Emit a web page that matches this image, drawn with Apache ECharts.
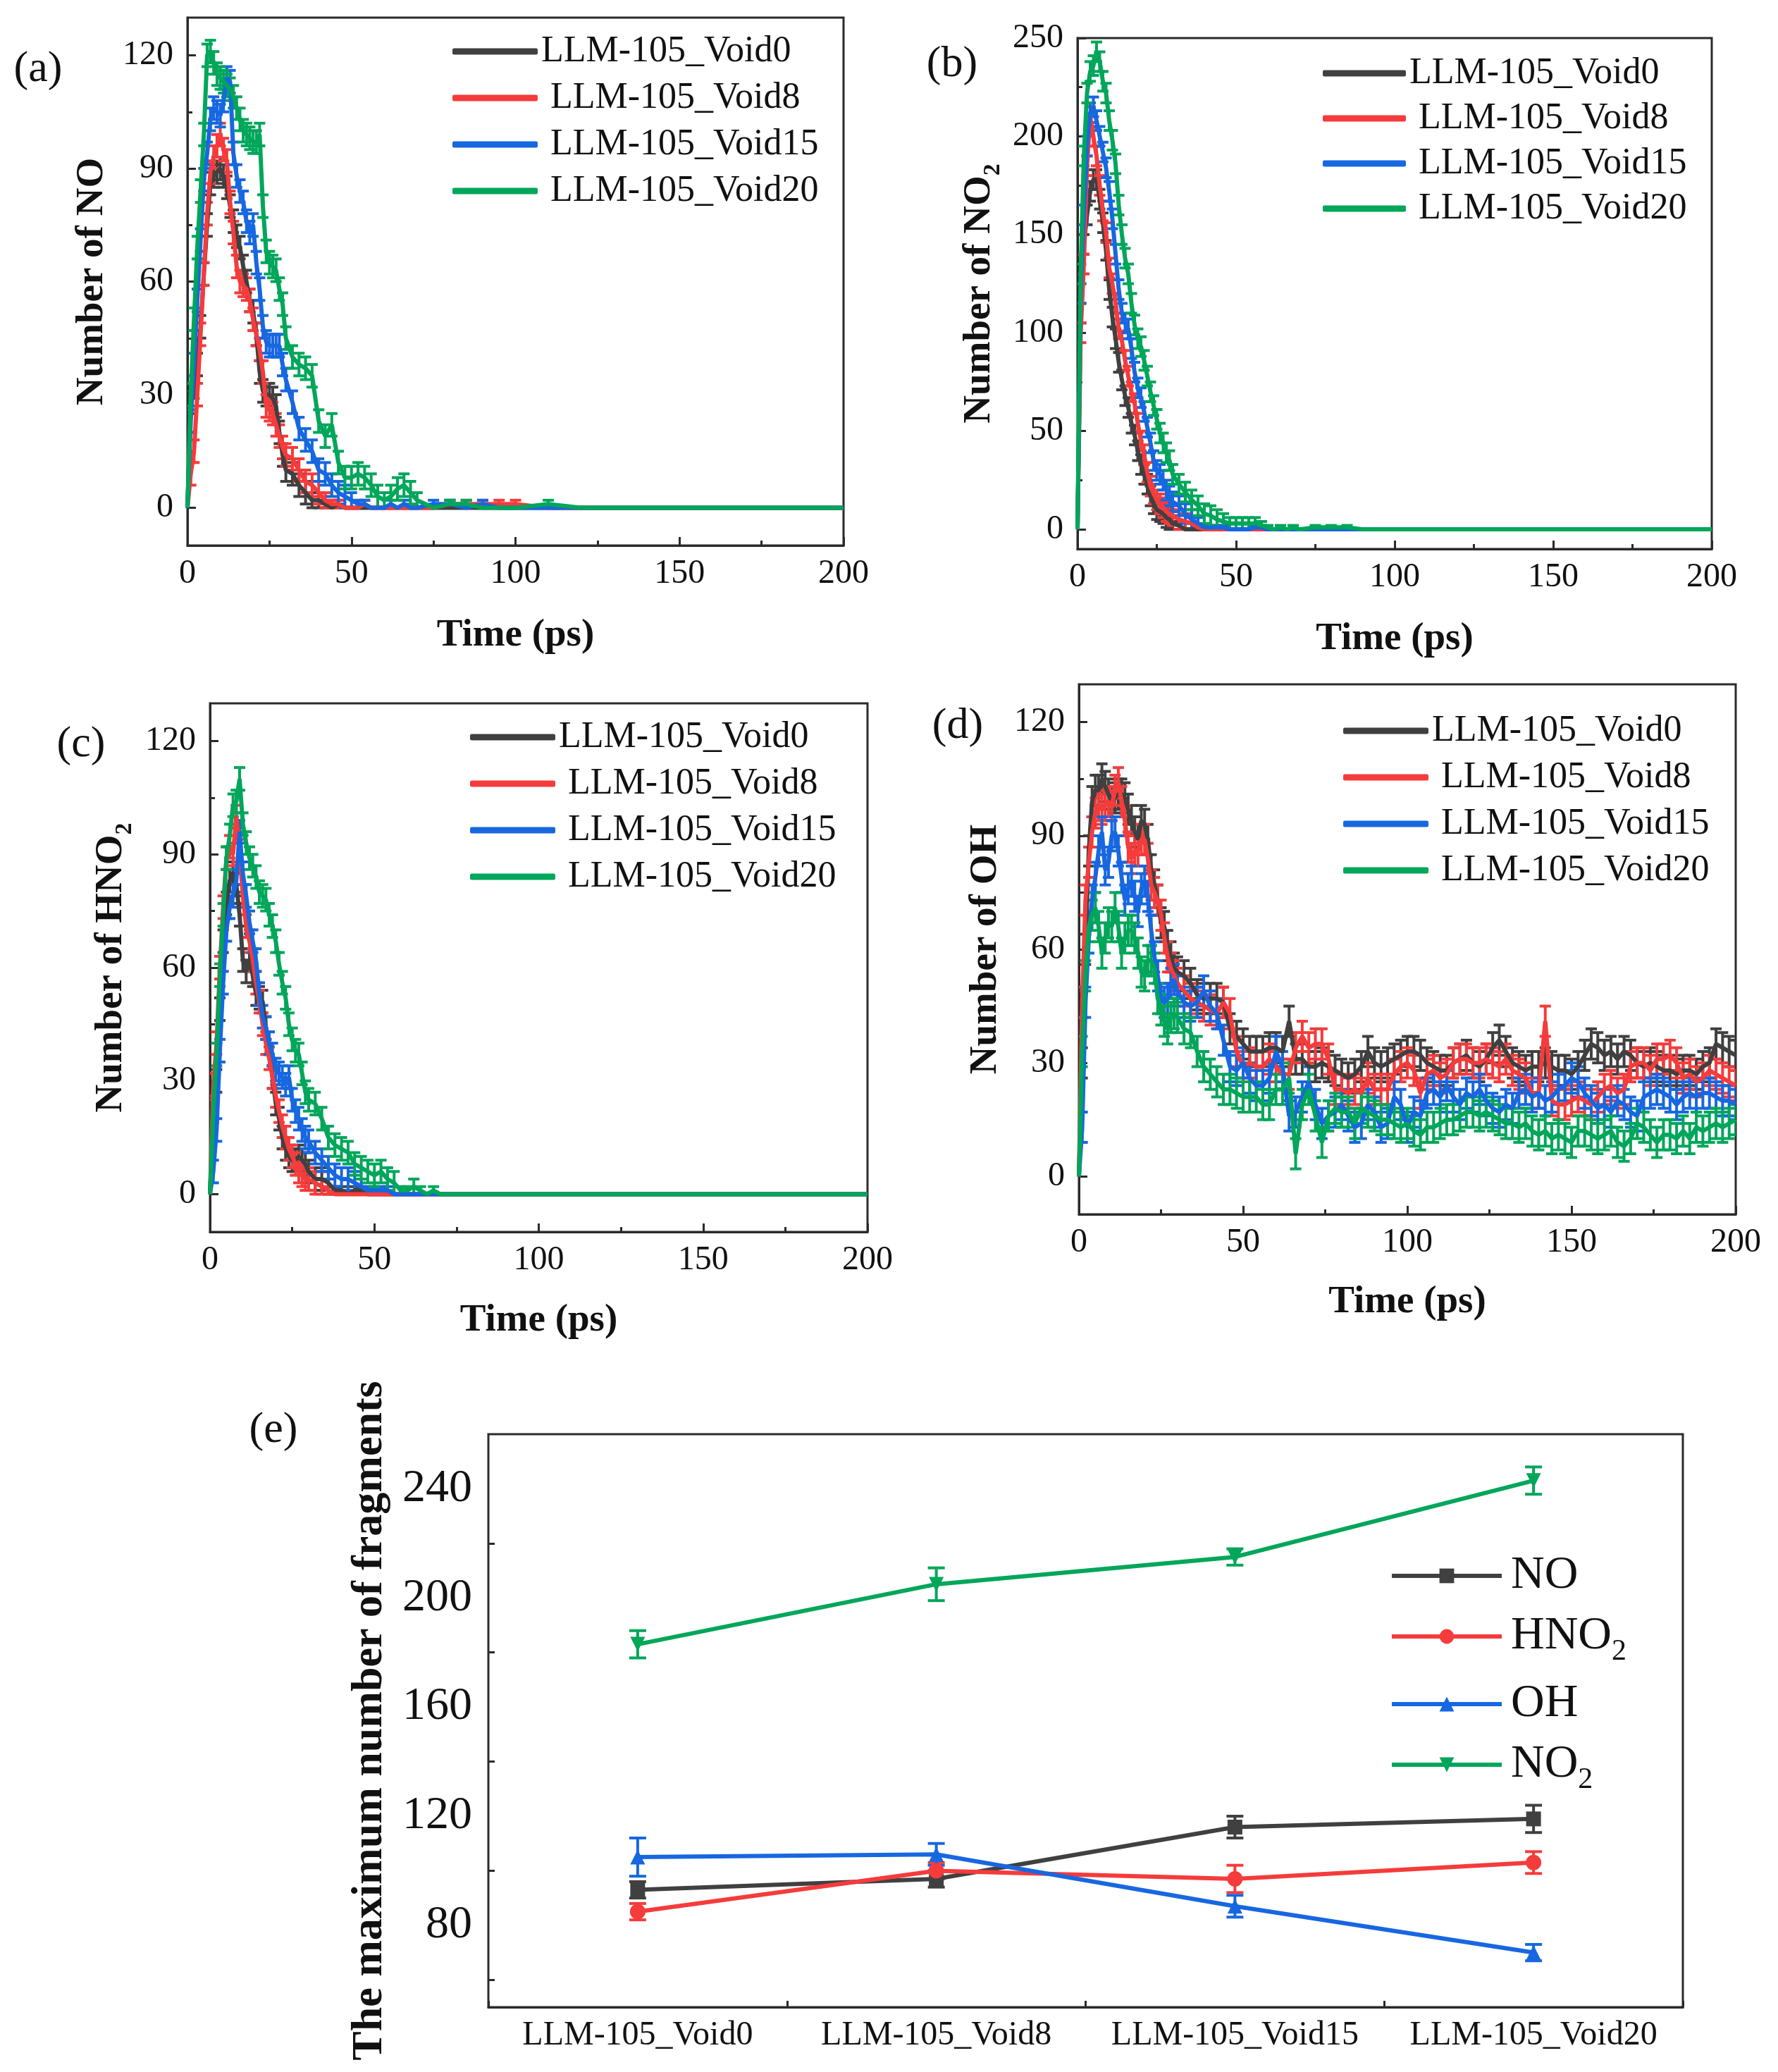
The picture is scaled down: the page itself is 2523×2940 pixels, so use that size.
<!DOCTYPE html>
<html><head><meta charset="utf-8">
<script src="https://cdn.jsdelivr.net/npm/echarts@6/dist/echarts.min.js"></script>
<style>html,body{margin:0;padding:0;background:#fff}#c{width:2523px;height:2940px}</style>
</head><body><div id="c"></div>
<script>
// ================= DATA =================
const voidNames = ['LLM-105_Void0', ' LLM-105_Void8', ' LLM-105_Void15', ' LLM-105_Void20'];

// time axis (ps) for panels (a)-(c)
const timeABC = [0,1,2,3,4,5,6,7,8,9,10,11,12,13,14,15,16,17,18,19,20,21,22,23,24,25,26,27,28,29,30,
  32,34,36,38,40,42,44,46,48,50,52,54,56,58,60,62,64,66,68,70,
  75,80,85,90,95,100,110,120,130,140,150,160,170,180,190,200];

// (a) Number of NO
const noVoid0  = [0,28,32,38,48,62,75,86,88,89,90,88,85,80,76,72,69,64,60,55,52,46,36,31,30,30,29,27,20,14,10, 9,6,4,2,2,1,0,1,0,0,0,0,0,0,0,0,0,0,0,0, 0,0,0,0,0,0,0,0,0,0,0,0,0,0,0,0];
const noVoid8  = [0,9,15,30,46,62,78,89,93,96,99,95,92,81,73,64,60,59,58,55,50,46,42,36,27,26,25,22,19,16,14, 13,10,7,6,4,2,1,1,0,0,0,1,0,0,0,0,0,0,0,0, 0,1,1,1,1,1,0,0,0,0,0,0,0,0,0,0];
const noVoid15 = [0,23,38,55,71,87,94,103,106,105,104,108,114,113,94,88,84,81,76,73,75,65,58,48,44,43,43,43,43,38,34, 28,21,18,15,10,9,6,4,3,2,1,1,0,0,0,1,0,1,0,0, 1,1,0,1,0,0,0,0,0,0,0,0,0,0,0,0];
const noVoid20 = [0,30,50,69,84,99,120,121,118,115,114,113,112,111,109,106,103,100,99,98,97,97,99,80,68,65,64,63,58,54,45, 40,38,37,35,23,19,22,12,8,8,9,8,6,3,2,3,5,6,4,2, 0,1,1,0,0,0,1,0,0,0,0,0,0,0,0,0];

// (b) Number of NO2
const no2Void0  = [0,110,145,160,172,178,178,168,156,142,122,108,97,85,76,68,62,54,48,40,33,28,23,17,13,10,9,8,6,5,3, 2,0,0,0,0,0,0,0,0,0,0,0,0,0,0,0,0,0,0,0, 0,0,0,0,0,0,0,0,0,0,0,0,0,0,0,0];
const no2Void8  = [0,100,135,185,210,200,190,175,162,151,133,125,115,102,96,86,78,70,64,54,45,38,29,22,18,15,13,11,9,8,7, 5,4,3,1,0,0,0,0,0,0,0,0,0,0,0,0,0,0,0,0, 0,0,0,0,0,0,0,0,0,0,0,0,0,0,0,0];
const no2Void15 = [0,120,160,195,212,215,208,200,192,184,172,158,140,122,110,105,102,92,80,72,67,60,52,44,35,30,28,25,20,17,14, 12,8,5,3,1,1,1,1,0,0,0,0,1,1,0,0,0,0,0,0, 0,0,0,0,0,0,0,0,0,0,0,0,0,0,0,0];
const no2Void20 = [0,130,190,222,233,236,243,238,228,222,208,198,186,165,150,138,130,115,104,97,93,86,78,70,63,56,49,44,39,35,28, 23,19,15,12,8,7,5,4,3,3,3,3,3,2,1,0,1,0,1,0, 1,1,1,0,0,0,0,0,0,0,0,0,0,0,0,0];

// (c) Number of HNO2
const hno2Void0  = [0,22,30,49,67,77,83,85,82,74,62,59,62,58,53,52,51,44,40,31,24,20,15,12,10,9,9,10,9,8,6, 4,4,3,1,1,0,1,1,0,0,0,0,0,0,0,0,0,0,0,0, 0,0,0,0,0,0,0,0,0,0,0,0,0,0,0,0];
const hno2Void8  = [0,29,40,60,76,89,92,90,100,91,79,71,67,62,56,51,45,40,36,31,26,22,18,15,12,10,8,6,5,4,4, 3,2,1,0,0,0,0,0,0,0,0,0,0,0,0,0,0,0,0,0, 0,0,0,0,0,0,0,0,0,0,0,0,0,0,0,0];
const hno2Void15 = [0,6,17,38,56,70,76,79,83,96,85,79,72,67,62,53,47,44,40,37,33,32,31,29,31,25,22,20,17,15,14, 11,9,7,5,4,4,3,2,1,1,1,1,0,0,0,0,0,0,0,0, 0,0,0,0,0,0,0,0,0,0,0,0,0,0,0,0];
const hno2Void20 = [0,22,37,58,74,89,95,103,104,110,98,93,89,87,84,80,79,78,74,71,67,61,56,52,45,41,38,37,32,27,25, 24,20,15,13,12,11,8,7,6,5,6,4,3,1,1,2,1,0,1,0, 0,0,0,0,0,0,0,0,0,0,0,0,0,0,0,0];

// time axis (ps) for panel (d)
const timeD = [0,1,2,3,4,5,6,7,8,9,10,11,12,13,14,15,16,17,18,19,20,21,22,23,24,25,26,27,28,29,30,
  32,34,36,38,40,42,44,46,48,50,52,54,56,58,60,62,64,66,68,70,72,74,76,78,80,82,84,86,88,90,92,94,96,98,100,
  102,104,106,108,110,112,114,116,118,120,122,124,126,128,130,132,134,136,138,140,142,144,146,148,150,
  152,154,156,158,160,162,164,166,168,170,172,174,176,178,180,182,184,186,188,190,192,194,196,198,200];

// (d) Number of OH
const ohVoid0  = [0,30,60,86,99,102,102,105,103,101,99,100,101,101,100,97,94,91,89,94,93,89,81,77,73,67,66,61,58,55,54,
  53,51,48,47,47,47,46,39,37,35,33,33,33,34,34,33,41,31,31,29,29,30,29,28,27,26,27,29,33,30,29,30,31,32,33,
  33,32,30,29,28,28,30,31,32,30,29,31,34,36,33,30,29,28,29,29,30,29,28,28,27,29,32,35,34,32,33,31,33,32,30,29,30,29,28,28,27,28,28,27,29,30,35,34,33,32];
const ohVoid8  = [0,46,73,83,91,96,98,97,98,99,98,102,104,99,94,87,84,86,86,89,89,84,77,75,73,69,63,58,55,53,51,
  49,47,46,45,44,43,46,43,33,29,30,29,29,31,29,27,27,34,37,34,35,35,31,23,23,22,23,22,26,23,23,23,27,29,30,
  28,22,27,28,26,27,30,31,31,30,30,31,30,29,31,28,27,26,22,22,41,20,19,19,20,21,20,19,21,23,24,22,23,29,30,30,28,31,31,32,30,26,27,25,26,28,27,26,25,24];
const ohVoid15 = [0,13,46,63,73,79,86,91,81,83,90,91,86,79,73,76,78,74,70,76,78,74,65,58,53,47,46,47,51,52,49,
  46,45,46,49,45,43,36,29,28,30,26,24,24,26,33,29,16,17,21,25,19,14,16,17,19,16,13,14,19,17,13,14,21,19,13,
  17,16,22,23,21,24,21,19,22,21,23,20,18,17,19,18,22,23,21,22,20,21,23,24,26,25,22,20,18,19,17,20,19,17,16,21,22,23,22,21,19,21,22,21,22,22,21,20,20,19];
const ohVoid20 = [0,33,53,66,69,71,66,59,63,67,66,71,66,59,63,65,65,63,59,54,53,57,57,55,47,44,41,39,42,43,42,
  39,38,33,29,27,25,23,23,22,21,21,21,19,19,23,23,26,6,19,23,16,9,16,18,17,17,14,18,17,16,15,15,14,13,14,
  12,11,13,13,14,15,15,16,17,17,16,17,16,15,14,14,13,14,12,11,12,10,11,10,9,12,12,11,10,11,12,9,8,10,14,13,11,9,11,11,10,12,10,13,12,13,14,13,14,15];

// typical error-bar half widths (Void0, Void8, Void15, Void20)
const errNO   = [3, 3, 3, 3];
const errNO2  = [5, 5, 5, 5];
const errHNO2 = [3, 3, 3, 3];
const errOH   = [4, 4, 4, 4];

// (e) maximum number of fragments
const categoriesE = ['LLM-105_Void0', 'LLM-105_Void8', 'LLM-105_Void15', 'LLM-105_Void20'];
const speciesE = ['NO', 'HNO2', 'OH', 'NO2'];
const maxNO   = [93, 97, 116, 119];
const maxHNO2 = [85, 100, 97, 103];
const maxOH   = [105, 106, 87, 70];
const maxNO2  = [183, 205, 215, 243];
const errMaxNO   = [3, 3, 4, 5];
const errMaxHNO2 = [3, 3, 5, 4];
const errMaxOH   = [7, 4, 4, 3];
const errMaxNO2  = [5, 6, 3, 5];

// tick values
const xTicksTime = [0, 50, 100, 150, 200];
const yTicks30 = [0, 30, 60, 90, 120];
const yMinor30 = [15, 45, 75, 105];
const yTicks50 = [0, 50, 100, 150, 200, 250];
const yMinor50 = [25, 75, 125, 175, 225];
const yTicksE = [80, 120, 160, 200, 240];
const yMinorE = [60, 100, 140, 180, 220];

// ================= STYLE / LAYOUT =================
const FONT = "'Liberation Serif','Times New Roman',serif";
const COLORS = ['#404040', '#f53b3b', '#1767e0', '#00a65a'];
const AX = '#2a2a2a';
const TXT = '#111';

function sub(name) { // 'HNO2' -> rich text with subscript
  const m = name.match(/^(.*[A-Z])2$/);
  return m ? '{m|' + m[1] + '}{s|2}' : '{m|' + name + '}';
}

const panels = [
  { label: '(a)', lx: 54, ly: 99, t: timeABC, vals: [noVoid0, noVoid8, noVoid15, noVoid20], err: errNO,
    grid: { left: 266, top: 25, width: 931, height: 749 }, ymin: -10, ymax: 130, major: yTicks30, minor: yMinor30,
    yName: 'Number of NO', yGap: 105, xGap: 100, legend: { left: 642, top: 47, itemWidth: 121, itemGap: 14 } },
  { label: '(b)', lx: 1351, ly: 92, t: timeABC, vals: [no2Void0, no2Void8, no2Void15, no2Void20], err: errNO2,
    grid: { left: 1529, top: 54, width: 900, height: 725 }, ymin: -10, ymax: 250, major: yTicks50, minor: yMinor50,
    yName: 'Number of NO2', yGap: 103, xGap: 100, legend: { left: 1877, top: 78, itemWidth: 118, itemGap: 12 } },
  { label: '(c)', lx: 115, ly: 1057, t: timeABC, vals: [hno2Void0, hno2Void8, hno2Void15, hno2Void20], err: errHNO2,
    grid: { left: 298, top: 998, width: 933, height: 750 }, ymin: -10, ymax: 130, major: yTicks30, minor: yMinor30,
    yName: 'Number of HNO2', yGap: 104, xGap: 98, legend: { left: 667, top: 1020, itemWidth: 121, itemGap: 14 } },
  { label: '(d)', lx: 1359, ly: 1031, t: timeD, vals: [ohVoid0, ohVoid8, ohVoid15, ohVoid20], err: errOH,
    grid: { left: 1531, top: 971, width: 932, height: 752 }, ymin: -10, ymax: 130, major: yTicks30, minor: yMinor30,
    yName: 'Number of OH', yGap: 102, xGap: 97, legend: { left: 1906, top: 1011, itemWidth: 121, itemGap: 14 } }
];

function nameStyle(size, subSize, lh, lhSub) {
  return {
    fontFamily: FONT, fontWeight: 'bold', fontSize: size, color: TXT,
    rich: {
      m: { fontFamily: FONT, fontWeight: 'bold', fontSize: size, color: TXT, lineHeight: lh, verticalAlign: 'middle' },
      s: { fontFamily: FONT, fontWeight: 'bold', fontSize: subSize, color: TXT, lineHeight: lhSub, verticalAlign: 'bottom' }
    }
  };
}

// error bar drawer; limitToValue keeps the bar from being longer than the value itself
function errRender(capHalf, lw, limitToValue) {
  return function (params, api) {
    const x = api.value(0), y = api.value(1);
    let e = api.value(2);
    if (!e || y === 0) return null;
    if (limitToValue) e = Math.min(e, Math.abs(y));
    const p1 = api.coord([x, y + e]), p2 = api.coord([x, y - e]);
    const st = { stroke: api.visual('color'), lineWidth: lw };
    return { type: 'group', children: [
      { type: 'line', shape: { x1: p1[0], y1: p1[1], x2: p2[0], y2: p2[1] }, style: st },
      { type: 'line', shape: { x1: p1[0] - capHalf, y1: p1[1], x2: p1[0] + capHalf, y2: p1[1] }, style: st },
      { type: 'line', shape: { x1: p2[0] - capHalf, y1: p2[1], x2: p2[0] + capHalf, y2: p2[1] }, style: st }
    ] };
  };
}

const grids = [], xAxes = [], yAxes = [], series = [], legends = [], graphics = [];
const tickLine = { color: AX, width: 3 };

panels.forEach((p, gi) => {
  grids.push(Object.assign({ show: true, borderColor: AX, borderWidth: 3, backgroundColor: 'transparent' }, p.grid));
  const xi = xAxes.length;
  xAxes.push({
    type: 'value', gridIndex: gi, position: 'bottom', min: 0, max: 200, interval: 50,
    axisLine: { onZero: false, lineStyle: { color: AX, width: 3 } },
    axisTick: { inside: true, length: 12, lineStyle: tickLine },
    minorTick: { show: true, splitNumber: 2, length: 7, lineStyle: tickLine },
    splitLine: { show: false }, minorSplitLine: { show: false },
    axisLabel: { fontFamily: FONT, fontSize: 48, color: TXT, margin: 16, customValues: xTicksTime },
    name: 'Time (ps)', nameLocation: 'middle', nameGap: p.xGap,
    nameTextStyle: nameStyle(55, 34, 60, 72)
  });
  const yi = yAxes.length;
  yAxes.push({
    type: 'value', gridIndex: gi, position: 'left', min: p.ymin, max: p.ymax,
    axisLine: { onZero: false, lineStyle: { color: AX, width: 3 } },
    axisTick: { inside: true, length: 12, lineStyle: tickLine, customValues: p.major },
    splitLine: { show: false },
    axisLabel: { fontFamily: FONT, fontSize: 48, color: TXT, margin: 20, customValues: p.major },
    name: sub(p.yName), nameLocation: 'middle', nameGap: p.yGap,
    nameTextStyle: nameStyle(55, 34, 60, 72)
  });
  yAxes.push({
    type: 'value', gridIndex: gi, position: 'left', min: p.ymin, max: p.ymax,
    axisLine: { show: false, onZero: false }, splitLine: { show: false },
    axisLabel: { show: false, customValues: p.minor },
    axisTick: { show: true, inside: true, length: 7, lineStyle: tickLine, customValues: p.minor }
  });
  p.vals.forEach((v, si) => {
    series.push({
      type: 'line', name: voidNames[si], xAxisIndex: xi, yAxisIndex: yi,
      data: p.t.map((t, i) => [t, v[i]]), symbol: 'none', clip: true,
      lineStyle: { color: COLORS[si], width: 6 }, itemStyle: { color: COLORS[si] }
    });
    series.push({
      type: 'custom', name: 'err' + gi + '_' + si, xAxisIndex: xi, yAxisIndex: yi, clip: true,
      itemStyle: { color: COLORS[si] }, encode: { x: 0, y: 1 },
      data: p.t.map((t, i) => [t, v[i], p.err[si]]),
      renderItem: errRender(8, 4, true)
    });
  });
  legends.push({
    data: voidNames, orient: 'vertical', left: p.legend.left, top: p.legend.top, padding: 0,
    itemWidth: p.legend.itemWidth, itemHeight: 9, itemGap: p.legend.itemGap, icon: 'roundRect',
    selectedMode: false,
    textStyle: { fontFamily: FONT, fontSize: 52, color: TXT, lineHeight: 52 }
  });
  graphics.push({ type: 'text', x: p.lx, y: p.ly,
    style: { text: p.label, font: "62px 'Liberation Serif', serif", fill: TXT,
      align: 'center', verticalAlign: 'middle', textAlign: 'center', textVerticalAlign: 'middle' } });
});

// ----- panel (e) -----
const ge = grids.length;
grids.push({ left: 693, top: 2035, width: 1695, height: 813, show: true, borderColor: AX, borderWidth: 3, backgroundColor: 'transparent' });
const xe = xAxes.length;
xAxes.push({
  type: 'category', gridIndex: ge, position: 'bottom', data: categoriesE, boundaryGap: true,
  axisLine: { onZero: false, lineStyle: { color: AX, width: 3 } },
  axisTick: { inside: true, alignWithLabel: true, length: 18, lineStyle: tickLine },
  axisLabel: { fontFamily: FONT, fontSize: 48, color: TXT, margin: 16, interval: 0 },
  splitLine: { show: false }
});
xAxes.push({
  type: 'category', gridIndex: ge, position: 'bottom', data: categoriesE, boundaryGap: true,
  axisLine: { show: false, onZero: false },
  axisTick: { show: true, inside: true, alignWithLabel: false, interval: 0, length: 9, lineStyle: tickLine },
  axisLabel: { show: false }, splitLine: { show: false }
});
const ye = yAxes.length;
yAxes.push({
  type: 'value', gridIndex: ge, position: 'left', min: 50, max: 260,
  axisLine: { onZero: false, lineStyle: { color: AX, width: 3 } },
  axisTick: { inside: true, length: 18, lineStyle: tickLine, customValues: yTicksE },
  axisLabel: { fontFamily: FONT, fontSize: 66, color: TXT, margin: 23, customValues: yTicksE },
  splitLine: { show: false },
  name: 'The maximum number of fragments', nameLocation: 'middle', nameGap: 131,
  nameTextStyle: { fontFamily: FONT, fontWeight: 'bold', fontSize: 62, color: TXT, lineHeight: 70 }
});
yAxes.push({
  type: 'value', gridIndex: ge, position: 'left', min: 50, max: 260,
  axisLine: { show: false, onZero: false }, splitLine: { show: false },
  axisLabel: { show: false, customValues: yMinorE },
  axisTick: { show: true, inside: true, length: 9, lineStyle: tickLine, customValues: yMinorE }
});

const valsE = [maxNO, maxHNO2, maxOH, maxNO2];
const errsE = [errMaxNO, errMaxHNO2, errMaxOH, errMaxNO2];
const symbolsE = ['rect', 'circle', 'triangle', 'path://M0,0L20,0L10,17Z'];
speciesE.forEach((sp, si) => {
  series.push({
    type: 'line', name: sp, xAxisIndex: xe, yAxisIndex: ye, data: valsE[si],
    symbol: symbolsE[si], symbolSize: si === 1 ? 22 : 21,
    lineStyle: { color: COLORS[si], width: 6 }, itemStyle: { color: COLORS[si] }
  });
  series.push({
    type: 'custom', name: 'errE_' + si, xAxisIndex: xe, yAxisIndex: ye,
    itemStyle: { color: COLORS[si] }, encode: { x: 0, y: 1 },
    data: valsE[si].map((v, i) => [i, v, errsE[si][i]]),
    renderItem: errRender(12, 4, false)
  });
});
legends.push({
  data: speciesE, orient: 'vertical', left: 1972, top: 2203, padding: 0,
  itemWidth: 156, itemHeight: 26, itemGap: 20, selectedMode: false,
  lineStyle: { width: 6 },
  formatter: sub,
  textStyle: {
    fontFamily: FONT, fontSize: 66, color: TXT,
    rich: {
      m: { fontFamily: FONT, fontSize: 66, color: TXT, lineHeight: 72, verticalAlign: 'middle', padding: [0, 0, 0, 8] },
      s: { fontFamily: FONT, fontSize: 42, color: TXT, lineHeight: 86, verticalAlign: 'bottom' }
    }
  }
});
graphics.push({ type: 'text', x: 388, y: 2030,
  style: { text: '(e)', font: "62px 'Liberation Serif', serif", fill: TXT,
    align: 'center', verticalAlign: 'middle', textAlign: 'center', textVerticalAlign: 'middle' } });

const chart = echarts.init(document.getElementById('c'), null, { renderer: 'canvas' });
chart.setOption({
  backgroundColor: '#ffffff',
  animation: false,
  textStyle: { fontFamily: FONT },
  grid: grids, xAxis: xAxes, yAxis: yAxes, series: series, legend: legends, graphic: graphics
});
</script></body></html>
